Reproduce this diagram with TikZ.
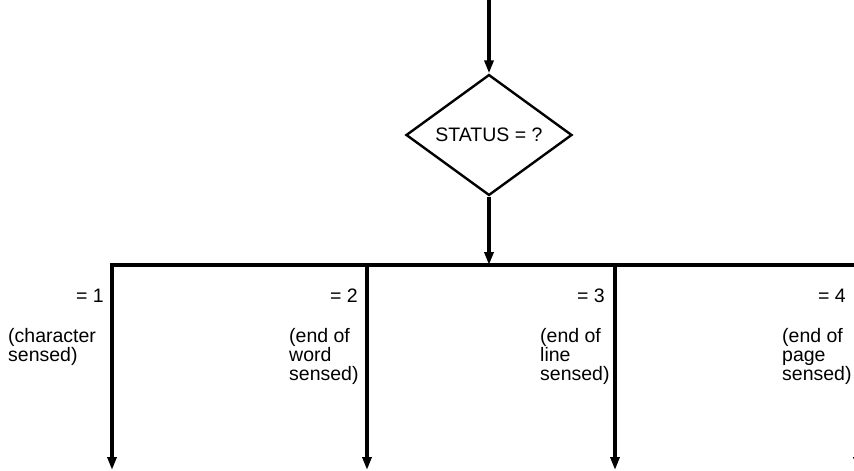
\documentclass[tikz,border=0pt]{standalone}
\usepackage{fontspec}
\setmainfont{Liberation Sans}
\usetikzlibrary{shapes.geometric,arrows.meta}
\begin{document}
\begin{tikzpicture}[x=1pt,y=-1pt,
  flow/.style={line width=3.6pt,-{Triangle[length=13pt,width=9pt]}},
  bar/.style={line width=3.6pt},
  decision/.style={diamond,draw,line width=2.4pt,inner sep=0pt,
    minimum width=166pt,minimum height=110pt,font=\fontsize{19.5}{19}\selectfont},
  eqlabel/.style={anchor=base east,inner sep=0pt,font=\fontsize{19.5}{19}\selectfont},
  note/.style={anchor=north west,inner sep=0pt,align=left,font=\fontsize{19.5}{19}\selectfont}]
\useasboundingbox (0,0) rectangle (854,471);
\coordinate (top) at (489,0);
\node[decision] (d) at (489,135) {STATUS = ?};
\coordinate (j) at (489,265);
\coordinate (b1) at (112,265);
\coordinate (b2) at (367,265);
\coordinate (b3) at (615,265);
\coordinate (b4) at (858,265);
\coordinate (e1) at (112,470);
\coordinate (e2) at (367,470);
\coordinate (e3) at (615,470);
\coordinate (e4) at (858,470);
\draw[flow] (top) -- (d.north);
\draw[flow] (d.south) -- (j);
\draw[bar,line cap=rect] (b1) -- (b4);
\draw[flow] (b1) -- (e1);
\draw[flow] (b2) -- (e2);
\draw[flow] (b3) -- (e3);
\draw[flow] (b4) -- (e4);
\node[eqlabel] (l1) at (104,302) {= 1};
\node[eqlabel] (l2) at (358,302) {= 2};
\node[eqlabel] (l3) at (605,302) {= 3};
\node[eqlabel] (l4) at (846,302) {= 4};
\node[note] (n1) at (8,328) {(character\\sensed)};
\node[note] (n2) at (289,328) {(end of\\word\\sensed)};
\node[note] (n3) at (540,328) {(end of\\line\\sensed)};
\node[note] (n4) at (782,328) {(end of\\page\\sensed)};
\end{tikzpicture}
\end{document}
